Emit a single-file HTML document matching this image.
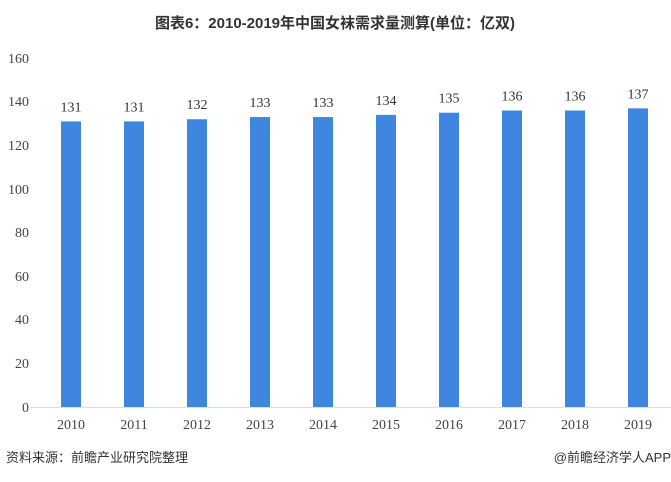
<!DOCTYPE html>
<html><head><meta charset="utf-8"><style>
body{margin:0;background:#fff;width:671px;height:477px;overflow:hidden}
</style></head><body>
<svg width="671" height="477" xmlns="http://www.w3.org/2000/svg">
<text x="335" y="28" text-anchor="middle" font-family="Liberation Sans, Noto Sans CJK SC, sans-serif" font-size="15" font-weight="bold" fill="#333">图表6：2010-2019年中国女袜需求量测算(单位：亿双)</text>
<g font-family="Liberation Serif, serif" font-size="14" fill="#444" text-anchor="end">
<text x="29" y="63">160</text><text x="29" y="106">140</text><text x="29" y="150">120</text>
<text x="29" y="194">100</text><text x="29" y="237">80</text><text x="29" y="281">60</text>
<text x="29" y="324">40</text><text x="29" y="368">20</text><text x="29" y="412">0</text>
</g>
<line x1="31" y1="407.5" x2="671" y2="407.5" stroke="#ddd" stroke-width="1"/>
<g fill="#3f86e0" id="bars"></g>
<g id="vals" font-family="Liberation Serif, serif" font-size="14" fill="#333" text-anchor="middle"></g>
<g id="xl" font-family="Liberation Serif, serif" font-size="14" fill="#444" text-anchor="middle"></g>
<text x="6" y="462" font-family="Liberation Sans, Noto Sans CJK SC, sans-serif" font-size="13" fill="#333">资料来源：前瞻产业研究院整理</text>
<text x="671" y="462" text-anchor="end" font-family="Liberation Sans, Noto Sans CJK SC, sans-serif" font-size="13" fill="#333">@前瞻经济学人APP</text>
</svg>
<script>
var v=[131,131,132,133,133,134,135,136,136,137],ns="http://www.w3.org/2000/svg";
v.forEach(function(d,i){var cx=71+63*i,h=d*2.18;
var r=document.createElementNS(ns,"rect");r.setAttribute("x",cx-10);r.setAttribute("y",407-h);r.setAttribute("width",20);r.setAttribute("height",h);document.getElementById("bars").appendChild(r);
var t=document.createElementNS(ns,"text");t.setAttribute("x",cx);t.setAttribute("y",407-h-10);t.textContent=d;document.getElementById("vals").appendChild(t);
var x=document.createElementNS(ns,"text");x.setAttribute("x",cx);x.setAttribute("y",429);x.textContent=2010+i;document.getElementById("xl").appendChild(x);});
</script>
</body></html>
